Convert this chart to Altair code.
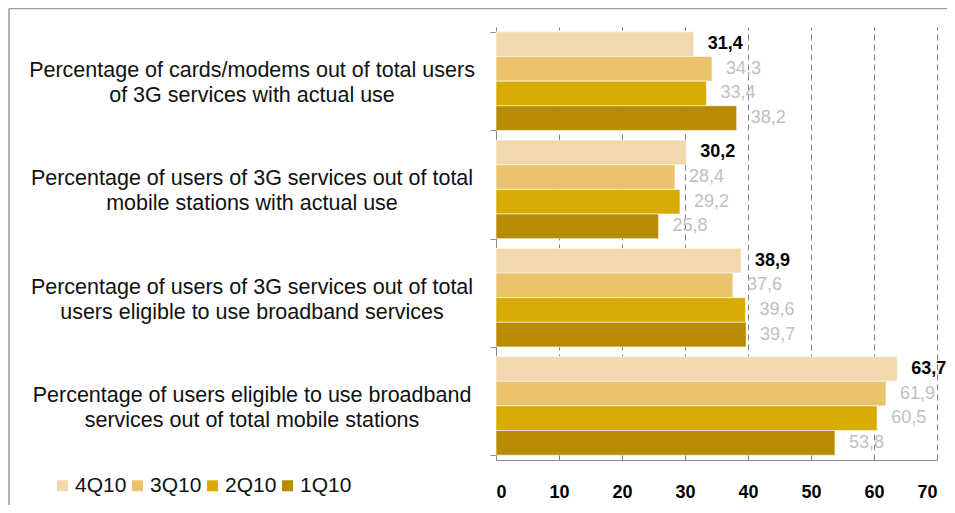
import altair as alt
import pandas as pd

categories = [
    "Percentage of cards/modems out of total users of 3G services with actual use",
    "Percentage of users of 3G services out of total mobile stations with actual use",
    "Percentage of users of 3G services out of total users eligible to use broadband services",
    "Percentage of users eligible to use broadband services out of total mobile stations",
]
category_lines = [
    "Percentage of cards/modems out of total users\nof 3G services with actual use",
    "Percentage of users of 3G services out of total\nmobile stations with actual use",
    "Percentage of users of 3G services out of total\nusers eligible to use broadband services",
    "Percentage of users eligible to use broadband\nservices out of total mobile stations",
]
series = ["4Q10", "3Q10", "2Q10", "1Q10"]
q4 = [31.4, 30.2, 38.9, 63.7]
q3 = [34.3, 28.4, 37.6, 61.9]
q2 = [33.4, 29.2, 39.6, 60.5]
q1 = [38.2, 25.8, 39.7, 53.8]
colors = ["#F2D9AD", "#EBC26C", "#D8AB02", "#B88C00"]
x_ticks = [0, 10, 20, 30, 40, 50, 60, 70]

rows = []
for s, vals in zip(series, [q4, q3, q2, q1]):
    for c, v in zip(categories, vals):
        rows.append({"category": c, "series": s, "value": v})
df = pd.DataFrame(rows)
cat_df = pd.DataFrame({"category": categories, "label": category_lines})

FONT = "Liberation Sans"

y_enc = alt.Y(
    "category:N",
    sort=categories,
    scale=alt.Scale(paddingInner=0.09, paddingOuter=0.045),
    axis=alt.Axis(
        labels=False, title=None, ticks=True, tickBand="extent", tickSize=6,
        tickColor="#8c8c8c", domainColor="#8c8c8c", grid=False,
    ),
)
x_enc = alt.X(
    "value:Q",
    scale=alt.Scale(domain=[0, 70], nice=False),
    axis=alt.Axis(
        values=x_ticks, title=None, ticks=False, grid=True, gridDash=[6, 4],
        gridColor="#808080", domainColor="#8c8c8c", labelFontWeight="bold",
        labelFontSize=18, labelPadding=23, labelColor="#000000", labelFont=FONT,
    ),
)
yoff = alt.YOffset("series:N", sort=series)

bars = alt.Chart(df).mark_bar(stroke="#ffffff", strokeWidth=0.8, strokeOpacity=0.7).encode(
    y=y_enc,
    x=x_enc,
    yOffset=yoff,
    color=alt.Color(
        "series:N",
        sort=series,
        scale=alt.Scale(domain=series, range=colors),
        legend=alt.Legend(
            orient="none", legendX=-444, legendY=448, direction="horizontal",
            title=None, symbolType="square", symbolSize=121, symbolStrokeWidth=0,
            labelFontSize=21, labelFont=FONT, labelOffset=2, columnPadding=0,
            labelColor="#111111",
        ),
    ),
)

base_lbl = alt.Chart(df).transform_calculate(
    lbl="replace(format(datum.value, '.1f'), '.', ',')"
)
lbl_bold = base_lbl.transform_filter(alt.datum.series == "4Q10").mark_text(
    align="left", baseline="middle", dx=14, fontSize=18, fontWeight="bold",
    color="#000000", font=FONT,
).encode(y=alt.Y("category:N", sort=categories), x="value:Q", yOffset=yoff, text="lbl:N")
lbl_gray = base_lbl.transform_filter(alt.datum.series != "4Q10").mark_text(
    align="left", baseline="middle", dx=14, fontSize=18, color="#BFBFBF", font=FONT,
).encode(y=alt.Y("category:N", sort=categories), x="value:Q", yOffset=yoff, text="lbl:N")

cat_text = alt.Chart(cat_df).mark_text(
    align="center", baseline="middle", fontSize=21.5, lineHeight=25, lineBreak="\n",
    dy=-10, color="#111111", font=FONT,
).encode(y=alt.Y("category:N", sort=categories), x=alt.value(-244), text="label:N")

one = pd.DataFrame({"a": [0]})
frame_top = alt.Chart(one).mark_rule(color="#9a9a9a", strokeWidth=1.5).encode(
    x=alt.value(-487), x2=alt.value(460), y=alt.value(-18.5)
)
frame_left = alt.Chart(one).mark_rule(color="#9a9a9a", strokeWidth=1.5).encode(
    x=alt.value(-487), y=alt.value(-18.5), y2=alt.value(530)
)

chart = alt.layer(frame_top, frame_left, bars, lbl_bold, lbl_gray, cat_text).properties(
    width=441, height=433,
    autosize=alt.AutoSizeParams(type="none"),
    padding={"left": 488, "top": 19, "right": 10, "bottom": 45},
).configure_view(stroke=None)

chart.save("out.html", embed_options={"renderer": "svg", "actions": False})
